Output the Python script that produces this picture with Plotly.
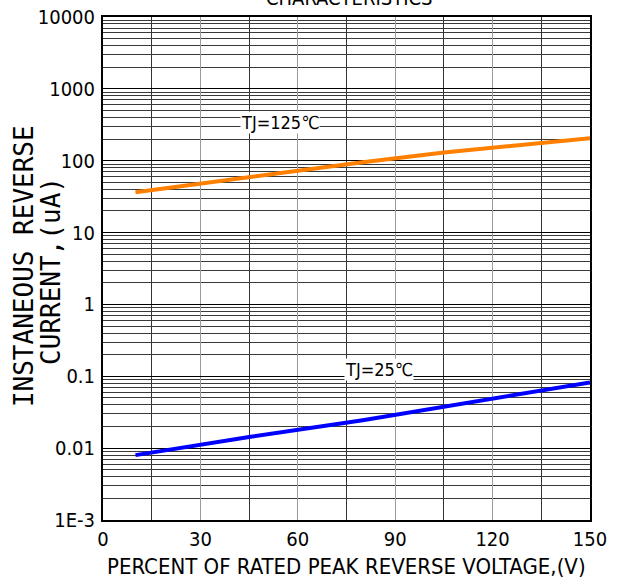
import plotly.graph_objects as go

# Data
x_pct = [10, 45, 80, 105, 135, 150]
i_125 = [36.5, 59, 95, 130, 175, 206]
i_25 = [0.0080, 0.0143, 0.0245, 0.038, 0.063, 0.082]

x_ticks = [0, 30, 60, 90, 120, 150]
y_tickvals = [1e-3, 1e-2, 1e-1, 1, 10, 100, 1000, 10000]
y_ticktext = ["1E-3", "0.01", "0.1", "1", "10", "100", "1000", "10000"]

NARROW = "DejaVu Sans Condensed"

fig = go.Figure()
fig.add_trace(go.Scatter(x=x_pct, y=i_125, mode="lines",
                         line=dict(color="#FF8000", width=4), showlegend=False))
fig.add_trace(go.Scatter(x=x_pct, y=i_25, mode="lines",
                         line=dict(color="#0000FF", width=4), showlegend=False))

fig.update_layout(
    width=619, height=585,
    margin=dict(l=103, r=29, t=17, b=65),
    paper_bgcolor="white", plot_bgcolor="white",
    font=dict(family=NARROW, color="black", size=20),
)
fig.update_xaxes(
    range=[0, 150], tickvals=x_ticks, ticks="", showline=True, linecolor="black",
    linewidth=2, mirror=True, showgrid=True, gridcolor="#9a9a9a", gridwidth=1,
    minor=dict(dtick=15, showgrid=True, gridcolor="#333333", gridwidth=1),
    tickfont=dict(family=NARROW, size=20), automargin=False,
    zeroline=False,
)
fig.update_yaxes(
    type="log", range=[-3, 4], tickvals=y_tickvals, ticktext=y_ticktext, ticks="",
    showline=True, linecolor="black", linewidth=2, mirror=True,
    showgrid=True, gridcolor="black", gridwidth=1,
    minor=dict(dtick="D1", showgrid=True, gridcolor="#3a3a3a", gridwidth=1),
    tickfont=dict(family=NARROW, size=20), automargin=False,
    ticklabelstandoff=2,
    zeroline=False,
)
# x-axis title
fig.add_annotation(text="PERCENT OF RATED PEAK REVERSE VOLTAGE,(V)", xref="paper",
                   yref="paper", x=0.501, y=-0.0934, xanchor="center", yanchor="middle",
                   showarrow=False, font=dict(family=NARROW, size=22))
# y-axis title (two rotated lines)
fig.add_annotation(text="INSTANEOUS REVERSE", xref="paper", yref="paper",
                   x=-0.162, y=0.505, xanchor="center", yanchor="middle",
                   textangle=-90, showarrow=False,
                   font=dict(family="DejaVu Sans Mono", size=26))
fig.add_annotation(text="CURRENT,(uA)", xref="paper", yref="paper",
                   x=-0.107, y=0.495, xanchor="center", yanchor="middle",
                   textangle=-90, showarrow=False,
                   font=dict(family="DejaVu Sans Mono", size=26))
# cut-off title
fig.add_annotation(text="CHARACTERISTICS", xref="paper", yref="paper", x=0.505,
                   y=1.038, xanchor="center", yanchor="middle", showarrow=False,
                   font=dict(family=NARROW, size=20))
# curve labels
fig.add_annotation(text="TJ=125℃", x=54.5, y=2.526, xref="x", yref="y",
                   xanchor="center", yanchor="middle",
                   showarrow=False, bgcolor="white", borderpad=0,
                   font=dict(family=NARROW, size=18))
fig.add_annotation(text="TJ=25℃", x=85, y=-0.91, xref="x", yref="y",
                   xanchor="center", yanchor="middle",
                   showarrow=False, bgcolor="white", borderpad=0,
                   font=dict(family=NARROW, size=18))

fig.write_html("out.html", config={"displayModeBar": False},
               post_script="document.body.style.margin='0px';")
